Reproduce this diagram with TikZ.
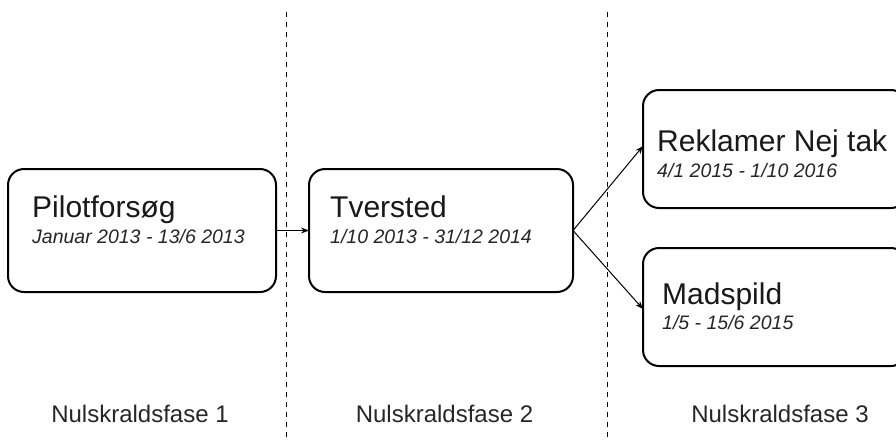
\documentclass[tikz,border=0pt]{standalone}
\usepackage{fontspec}
\setmainfont{Liberation Sans}
\usetikzlibrary{arrows.meta}
\begin{document}
\begin{tikzpicture}[x=1pt,y=-1pt,
  phasebox/.style={draw=black, line width=2pt, rounded corners=16pt, fill=white, inner sep=0pt, outer sep=0pt},
  title/.style={anchor=base west, inner sep=0pt, font=\fontsize{30}{36}\selectfont, text=black!90},
  datetxt/.style={anchor=base west, inner sep=0pt, font=\fontsize{19.5}{23}\selectfont\itshape, text=black!85},
  phaselbl/.style={anchor=base, inner sep=0pt, font=\fontsize{24}{28}\selectfont, text=black!85},
  divider/.style={draw=black, line width=1pt, dash pattern=on 5pt off 5pt},
  conn/.style={draw=black, line width=1pt, -{Stealth[length=8pt,width=6pt]}}]
\useasboundingbox (0,0) rectangle (896,440);
\clip (0,0) rectangle (896,440);
% dividers
\coordinate (d1t) at (286,12);
\coordinate (d1b) at (286,440);
\coordinate (d2t) at (607,12);
\coordinate (d2b) at (607,440);
\draw[divider] (d1t) -- (d1b);
\draw[divider] (d2t) -- (d2b);
% boxes
\node[phasebox, minimum width=268pt, minimum height=123pt] (pilot) at (142,230.5) {};
\node[phasebox, minimum width=264pt, minimum height=123pt] (tver) at (441,230.5) {};
\node[phasebox, minimum width=264pt, minimum height=118pt] (rek) at (775,149) {};
\node[phasebox, minimum width=264pt, minimum height=118pt] (mad) at (775,307) {};
% texts
\node[title] (pilotT) at (32,217) {Pilotforsøg};
\node[datetxt] (pilotD) at (32,243) {Januar 2013 - 13/6 2013};
\node[title] (tverT) at (330,217) {Tversted};
\node[datetxt] (tverD) at (330,243) {1/10 2013 - 31/12 2014};
\node[title] (rekT) at (657,151) {Reklamer Nej tak};
\node[datetxt] (rekD) at (657,177) {4/1 2015 - 1/10 2016};
\node[title] (madT) at (662,304) {Madspild};
\node[datetxt] (madD) at (662,329) {1/5 - 15/6 2015};
% connectors
\draw[conn] (pilot.east) -- (tver.west);
\draw[conn] (tver.east) -- ([yshift=3pt]rek.west);
\draw[conn] (tver.east) -- ([yshift=-2pt]mad.west);
% phase labels
\node[phaselbl] (f1) at (140,422) {Nulskraldsfase 1};
\node[phaselbl] (f2) at (444.5,422) {Nulskraldsfase 2};
\node[phaselbl] (f3) at (780,422) {Nulskraldsfase 3};
\end{tikzpicture}
\end{document}
